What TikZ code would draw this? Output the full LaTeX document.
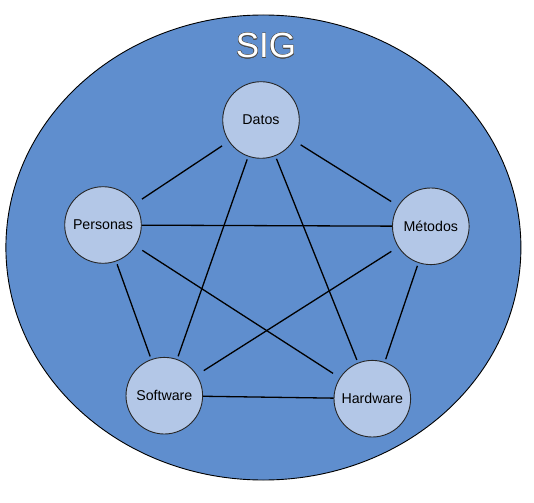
\documentclass[tikz,border=0pt]{standalone}
\usepackage{fontspec}
\setmainfont{Liberation Sans}
\usepackage{contour}
\contourlength{0.45pt}
\definecolor{sigblue}{HTML}{5F8ECE}
\definecolor{nodeblue}{HTML}{B3C7E7}
\tikzset{
  comp/.style={circle,draw=black!85,fill=nodeblue,line width=0.9pt,
    minimum size=76.6pt,inner sep=0pt,font=\fontsize{14.2}{17}\selectfont},
  link/.style={line width=1.3pt},
  farlink/.style={link,shorten <=8pt,shorten >=8pt},
  nearlink/.style={link,shorten <=3pt,shorten >=3pt}
}
\begin{document}
\begin{tikzpicture}[x=1pt,y=-1pt]
  \useasboundingbox (0,0) rectangle (534,502);
  % outer system
  \draw[fill=sigblue,line width=0.9pt] (263.4,247.5) ellipse (257.5pt and 232.5pt);
  \node (sig) at (266,46) {\fontsize{35}{40}\selectfont\contour{black!70}{\textcolor{white}{SIG}}};
  % components
  \node[comp] (datos) at (261,120) {Datos};
  \node[comp] (personas) at (103,225) {Personas};
  \node[comp] (metodos) at (430.8,226.3) {Métodos};
  \node[comp] (software) at (164.3,395.7) {Software};
  \node[comp] (hardware) at (372.3,398.7) {Hardware};
  % links
  \draw[farlink] (datos) -- (personas);
  \draw[farlink] (datos) -- (metodos);
  \draw[nearlink] (datos) -- (software);
  \draw[nearlink] (datos) -- (hardware);
  \draw[link] (personas) -- (metodos);
  \draw[nearlink] (personas) -- (software);
  \draw[farlink] (personas) -- (hardware);
  \draw[farlink] (metodos) -- (software);
  \draw[nearlink] (metodos) -- (hardware);
  \draw[link] (software) -- (hardware);
\end{tikzpicture}
\end{document}
